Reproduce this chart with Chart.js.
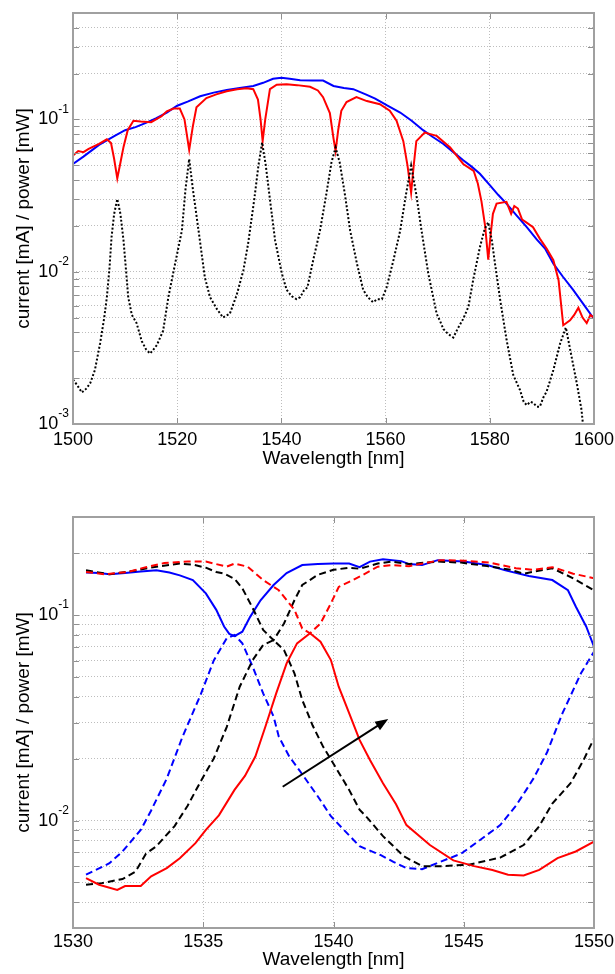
<!DOCTYPE html>
<html>
<head>
<meta charset="utf-8">
<script src="https://cdn.jsdelivr.net/npm/chart.js@4.4.1/dist/chart.umd.min.js"></script>
<style>
  body { margin: 0; background: #fff; }
  #wrap { position: relative; width: 615px; height: 974px; }
  canvas { position: absolute; left: 0; }
</style>
</head>
<body>
<div id="wrap">
  <canvas id="topChart" width="615" height="487" style="top:0"></canvas>
  <canvas id="bottomChart" width="615" height="487" style="top:487px"></canvas>
</div>
<script>
// ---- top panel: full sweep 1500-1600 nm ----
const topTicksX = [1500, 1520, 1540, 1560, 1580, 1600];
const topTicksY = [0.001, 0.002, 0.003, 0.004, 0.005, 0.006, 0.007, 0.008, 0.009,
  0.01, 0.02, 0.03, 0.04, 0.05, 0.06, 0.07, 0.08, 0.09, 0.1, 0.2, 0.3, 0.4, 0.5];

// blue: power envelope
const topBlueX = [1500, 1502, 1505, 1508, 1510, 1512, 1514, 1516, 1518, 1520, 1522, 1524.4, 1527, 1529.5,
  1532, 1534.6, 1536.5, 1538.4, 1540, 1541.6, 1543.6, 1546, 1548, 1550, 1552, 1553.8, 1556.4, 1558,
  1560.2, 1562.8, 1565, 1567.2, 1569, 1571.1, 1573, 1574.9, 1576.5, 1578.1, 1580, 1581.6, 1583.2,
  1585, 1587.1, 1589, 1590.6, 1592.2, 1594, 1596, 1598, 1600];
const topBlueY = [0.051, 0.057, 0.068, 0.078, 0.085, 0.089, 0.095, 0.102, 0.111, 0.123, 0.131, 0.142, 0.150, 0.156,
  0.161, 0.166, 0.174, 0.185, 0.188, 0.185, 0.181, 0.180, 0.180, 0.166, 0.161, 0.158, 0.145, 0.137,
  0.124, 0.111, 0.098, 0.085, 0.077, 0.069, 0.061, 0.054, 0.049, 0.044, 0.037, 0.032, 0.028,
  0.0237, 0.0196, 0.0163, 0.0142, 0.0113, 0.0093, 0.0076, 0.0061, 0.0049];

// red: power with dips
const topRedX = [1500, 1501, 1502, 1503, 1505, 1506.5, 1507.3, 1507.9, 1508.5, 1509.1, 1509.7, 1510.5, 1511.6,
  1513, 1515, 1517, 1518, 1519.3, 1520.5, 1521.4, 1522.3, 1523, 1523.7, 1525.6, 1527.5, 1529.5, 1531.5,
  1533.3, 1534.6, 1535.5, 1536, 1536.4, 1536.9, 1537.8, 1539.1, 1541, 1543, 1545.5, 1547, 1548, 1549.3,
  1550, 1550.4, 1550.9, 1551.5, 1552.5, 1554.4, 1556.4, 1558.9, 1560.8, 1562.1, 1563.4, 1564.2, 1564.9,
  1565.4, 1565.9, 1567.5, 1569.8, 1572.4, 1574.9, 1576.9, 1577.7, 1578.4, 1579.1, 1579.7, 1580.2, 1580.6,
  1581.3, 1583.2, 1584.1, 1584.7, 1585.4, 1586.2, 1587, 1588.3, 1589.6, 1590.9, 1592.2, 1593.2, 1594.1,
  1595.4, 1596.2, 1597, 1597.8, 1598.6, 1599.3, 1600];
const topRedY = [0.058, 0.062, 0.061, 0.064, 0.069, 0.074, 0.070, 0.055, 0.041, 0.052, 0.066, 0.085, 0.098,
  0.097, 0.096, 0.105, 0.113, 0.118, 0.118, 0.100, 0.063, 0.090, 0.120, 0.138, 0.146, 0.153, 0.158,
  0.160, 0.158, 0.135, 0.100, 0.072, 0.100, 0.158, 0.169, 0.170, 0.168, 0.164, 0.155, 0.140, 0.110,
  0.075, 0.062, 0.085, 0.114, 0.130, 0.140, 0.132, 0.126, 0.114, 0.098, 0.072, 0.050, 0.033,
  0.050, 0.072, 0.082, 0.078, 0.0655, 0.051, 0.046, 0.038, 0.029, 0.020, 0.012, 0.018, 0.024,
  0.028, 0.0288, 0.024, 0.027, 0.026, 0.022, 0.0211, 0.0196, 0.0165, 0.0142, 0.0119, 0.0088, 0.00445,
  0.0048, 0.0052, 0.0058, 0.0050, 0.0046, 0.0052, 0.0050];

// black dots: photocurrent
const topDotsX = [1500, 1500.8, 1501.7, 1502.5, 1503.3, 1504.2, 1505.2, 1506, 1506.5, 1507, 1507.4, 1507.9,
  1508.5, 1509.1, 1509.7, 1510.2, 1510.6, 1511.3, 1512.2, 1513.2, 1514, 1514.8, 1515.5, 1516.1, 1517.3,
  1518.3, 1519.6, 1520.9, 1521.6, 1522.3, 1523, 1524.1, 1525.3, 1526.3, 1527.6, 1528.8, 1530.1, 1531.4,
  1532.7, 1533.6, 1534.8, 1535.6, 1536.3, 1537, 1537.9, 1538.8, 1540.1, 1541, 1542, 1542.9, 1543.6,
  1544.3, 1545, 1546.1, 1547.4, 1548.6, 1549.6, 1550.4, 1551.2, 1552.2, 1553.2, 1554.5, 1555.7, 1556.6,
  1557.6, 1558.4, 1559.3, 1560.2, 1561.5, 1562.8, 1563.9, 1564.9, 1565.9, 1566.9, 1568.2, 1569.8, 1570.5,
  1571.1, 1572, 1573, 1573.8, 1574.9, 1575.9, 1576.8, 1578.1, 1579, 1579.7, 1580.4, 1581, 1582, 1583.2,
  1584.5, 1585.8, 1586.5, 1587.1, 1587.8, 1588.4, 1589, 1589.6, 1590.3, 1590.9, 1592.2, 1593.5, 1594.6,
  1595.7, 1596.7, 1597.6, 1597.9];
const topDotsY = [0.00196, 0.0018, 0.00161, 0.0017, 0.00185, 0.00226, 0.00338, 0.0050, 0.0068, 0.0105, 0.0169, 0.024,
  0.030, 0.024, 0.016, 0.010, 0.0068, 0.0052, 0.0046, 0.0035, 0.0031, 0.0029, 0.0031, 0.0033, 0.0041,
  0.0068, 0.0113, 0.0186, 0.035, 0.055, 0.035, 0.0186, 0.0092, 0.0068, 0.0057, 0.0050, 0.0053, 0.0070,
  0.0102, 0.0152, 0.030, 0.050, 0.0706, 0.050, 0.028, 0.016, 0.0097, 0.0076, 0.0069, 0.0066, 0.0068,
  0.0075, 0.0079, 0.0119, 0.0186, 0.032, 0.052, 0.0655, 0.052, 0.032, 0.0186, 0.0113, 0.0076, 0.0068,
  0.0063, 0.0066, 0.0066, 0.0079, 0.0119, 0.0186, 0.032, 0.0497, 0.032, 0.0186, 0.0097, 0.0053, 0.0047,
  0.0042, 0.0039, 0.0037, 0.0042, 0.0049, 0.0059, 0.0088, 0.0145, 0.019, 0.0211, 0.016, 0.0113, 0.0065, 0.0036,
  0.0021, 0.00167, 0.0014, 0.00133, 0.0014, 0.00137, 0.0013, 0.0013, 0.0015, 0.00163, 0.00226, 0.00338, 0.0043,
  0.00276, 0.00185, 0.00124, 0.00098];

// ---- bottom panel: tuning, 1530-1550 nm ----
const botTicksX = [1530, 1535, 1540, 1545, 1550];
const botTicksY = [0.003, 0.004, 0.005, 0.006, 0.007, 0.008, 0.009,
  0.01, 0.02, 0.03, 0.04, 0.05, 0.06, 0.07, 0.08, 0.09, 0.1, 0.2, 0.3];

const blueSolidX = [1530.5, 1531, 1531.4, 1532, 1532.6, 1533.2, 1533.7, 1534.1, 1534.6, 1535.1, 1535.5, 1535.8,
  1536, 1536.2, 1536.5, 1536.8, 1537.2, 1537.7, 1538.2, 1538.8, 1539.4, 1540, 1540.6, 1541, 1541.4,
  1541.9, 1542.6, 1542.9, 1543.4, 1544, 1545, 1545.9, 1546.6, 1547.5, 1548.4, 1549, 1549.3, 1549.7, 1550];
const blueSolidY = [0.161, 0.160, 0.158, 0.160, 0.163, 0.165, 0.161, 0.156, 0.148, 0.1275, 0.106, 0.088,
  0.081, 0.079, 0.083, 0.098, 0.118, 0.140, 0.160, 0.175, 0.177, 0.178, 0.178, 0.171, 0.182,
  0.187, 0.183, 0.177, 0.175, 0.185, 0.182, 0.175, 0.165, 0.155, 0.148, 0.132, 0.110, 0.088, 0.0701];

const blueDashX = [1530.5, 1531.4, 1531.9, 1532.6, 1533, 1533.6, 1534.2, 1534.9, 1535.4, 1535.9, 1536.2, 1536.5,
  1536.9, 1537.3, 1537.7, 1537.9, 1538.3, 1538.7, 1539.4, 1539.9, 1540.4, 1541, 1541.8, 1542.3, 1542.8,
  1543.4, 1544.1, 1544.9, 1545.6, 1546.4, 1547, 1547.4, 1547.7, 1548.2, 1548.8, 1549.5, 1550];
const blueDashY = [0.00545, 0.0062, 0.00707, 0.0090, 0.0112, 0.0160, 0.0255, 0.0410, 0.0600, 0.0770, 0.0800, 0.0728,
  0.0560, 0.0416, 0.0321, 0.0256, 0.0205, 0.0175, 0.0131, 0.0105, 0.0090, 0.0075, 0.0068, 0.0063, 0.00587,
  0.0058, 0.0063, 0.0069, 0.0080, 0.0095, 0.0118, 0.0141, 0.0162, 0.0215, 0.0335, 0.0521, 0.0663];

const blackLowX = [1530.5, 1531.1, 1531.9, 1532.4, 1532.8, 1533.2, 1533.9, 1534.4, 1534.9, 1535.4, 1535.9, 1536.4,
  1536.9, 1537.3, 1537.7, 1538.1, 1538.5, 1538.8, 1539.2, 1539.6, 1540.1, 1540.6, 1541, 1541.3, 1541.9,
  1542.7, 1543.4, 1544.2, 1545.2, 1546.4, 1547.3, 1547.9, 1548.4, 1549.1, 1549.6, 1550];
const blackLowY = [0.00487, 0.00496, 0.00519, 0.00565, 0.0069, 0.0075, 0.0094, 0.0118, 0.0155, 0.0200, 0.0285, 0.0448,
  0.0604, 0.0715, 0.0755, 0.0676, 0.0521, 0.0386, 0.0290, 0.0229, 0.0180, 0.0141, 0.0113, 0.0103, 0.0084,
  0.0067, 0.0060, 0.0060, 0.0061, 0.0066, 0.0076, 0.0094, 0.0121, 0.0152, 0.0197, 0.0251];

const blackHighX = [1530.5, 1531.4, 1532.3, 1533.2, 1534.1, 1534.6, 1535.1, 1535.5, 1535.8, 1536.2, 1536.5, 1536.9,
  1537.3, 1537.7, 1538.1, 1538.5, 1538.8, 1539.4, 1540, 1540.6, 1541, 1541.7, 1542.2, 1542.9, 1544,
  1544.9, 1545.9, 1546.8, 1547.3, 1548.4, 1549.2, 1550];
const blackHighY = [0.165, 0.158, 0.164, 0.172, 0.178, 0.176, 0.170, 0.162, 0.159, 0.150, 0.135, 0.108,
  0.0846, 0.0755, 0.091, 0.118, 0.140, 0.157, 0.166, 0.170, 0.168, 0.178, 0.182, 0.177, 0.182,
  0.180, 0.173, 0.166, 0.159, 0.169, 0.151, 0.132];

const redSolidX = [1530.5, 1531, 1531.7, 1532, 1532.6, 1533, 1533.6, 1534.1, 1534.7, 1535.1, 1535.6, 1536.2,
  1536.6, 1537, 1537.4, 1537.8, 1538.2, 1538.6, 1539.1, 1539.5, 1539.9, 1540.2, 1540.6, 1541, 1541.4,
  1541.9, 1542.4, 1542.8, 1543.7, 1544.6, 1545.4, 1546.1, 1546.7, 1547.3, 1547.9, 1548.6, 1549.3, 1550];
const redSolidY = [0.00525, 0.00487, 0.0046, 0.0048, 0.0048, 0.00535, 0.00587, 0.00656, 0.00776, 0.0090, 0.0106, 0.0141,
  0.0165, 0.0205, 0.0290, 0.0416, 0.0582, 0.0728, 0.0815, 0.0742, 0.0604, 0.0448, 0.0333, 0.0247, 0.0197,
  0.0152, 0.0120, 0.0095, 0.0076, 0.0064, 0.0060, 0.00575, 0.00545, 0.0054, 0.00575, 0.00656, 0.00707, 0.0079];

const redDashX = [1530.5, 1531.2, 1532.1, 1532.8, 1533.5, 1534.4, 1535.1, 1535.9, 1536.2, 1536.7, 1537.3, 1537.9,
  1538.5, 1538.8, 1539.1, 1539.5, 1539.9, 1540.2, 1540.6, 1541.1, 1541.7, 1542.2, 1542.9, 1544.1, 1545,
  1546, 1547, 1547.7, 1548.4, 1549.2, 1550];
const redDashY = [0.162, 0.158, 0.162, 0.171, 0.179, 0.182, 0.182, 0.172, 0.178, 0.172, 0.148, 0.132,
  0.106, 0.086, 0.0815, 0.091, 0.114, 0.137, 0.145, 0.156, 0.172, 0.175, 0.173, 0.185, 0.184,
  0.180, 0.169, 0.166, 0.171, 0.159, 0.151];

// arrow (wavelength, value) from -> to
const arrowFrom = [1538.05, 0.0146];
const arrowTo = [1542.1, 0.0312];

Chart.defaults.font.family = "'Liberation Sans', Arial, sans-serif";
Chart.defaults.color = '#000';

function pts(xs, ys) {
  return xs.map((x, i) => ({ x: x, y: ys[i] }));
}

// box round the plot, inward ticks and 10^n labels
const frame = {
  id: 'frame',
  afterDraw(chart) {
    const { ctx, chartArea: a, scales } = chart;
    ctx.save();
    ctx.strokeStyle = '#909090';
    ctx.lineWidth = 1;
    ctx.beginPath();
    scales.x.ticks.forEach(t => {
      const px = Math.round(scales.x.getPixelForValue(t.value)) + 0.5;
      ctx.moveTo(px, a.bottom); ctx.lineTo(px, a.bottom - 6);
      ctx.moveTo(px, a.top); ctx.lineTo(px, a.top + 6);
    });
    scales.y.ticks.forEach(t => {
      const py = Math.round(scales.y.getPixelForValue(t.value)) + 0.5;
      ctx.moveTo(a.left, py); ctx.lineTo(a.left + 6, py);
      ctx.moveTo(a.right, py); ctx.lineTo(a.right - 6, py);
    });
    ctx.stroke();

    ctx.strokeStyle = '#a0a0a0';
    ctx.lineWidth = 2;
    ctx.strokeRect(a.left, a.top, a.right - a.left, a.bottom - a.top);

    // y labels as 10 with a raised exponent
    ctx.fillStyle = '#000';
    ctx.textBaseline = 'middle';
    scales.y.ticks.forEach(t => {
      const e = Math.log10(t.value);
      if (Math.abs(e - Math.round(e)) > 1e-9) return;
      const py = scales.y.getPixelForValue(t.value);
      const sup = String(Math.round(e));
      ctx.font = "12px 'Liberation Sans', Arial, sans-serif";
      const wSup = ctx.measureText(sup).width;
      ctx.textAlign = 'left';
      ctx.fillText(sup, 69 - wSup, py - 10);
      ctx.font = "18px 'Liberation Sans', Arial, sans-serif";
      ctx.textAlign = 'right';
      ctx.fillText('10', 69 - wSup, py);
    });
    ctx.restore();
  }
};

const arrow = {
  id: 'arrow',
  afterDatasetsDraw(chart) {
    const { ctx, scales } = chart;
    const x0 = scales.x.getPixelForValue(arrowFrom[0]);
    const y0 = scales.y.getPixelForValue(arrowFrom[1]);
    const x1 = scales.x.getPixelForValue(arrowTo[0]);
    const y1 = scales.y.getPixelForValue(arrowTo[1]);
    const ang = Math.atan2(y1 - y0, x1 - x0);
    const len = 13, half = 5;
    ctx.save();
    ctx.strokeStyle = '#000';
    ctx.fillStyle = '#000';
    ctx.lineWidth = 2;
    ctx.beginPath();
    ctx.moveTo(x0, y0);
    ctx.lineTo(x1 - Math.cos(ang) * len * 0.8, y1 - Math.sin(ang) * len * 0.8);
    ctx.stroke();
    ctx.beginPath();
    ctx.moveTo(x1, y1);
    ctx.lineTo(x1 - Math.cos(ang) * len - Math.sin(ang) * half, y1 - Math.sin(ang) * len + Math.cos(ang) * half);
    ctx.lineTo(x1 - Math.cos(ang) * len + Math.sin(ang) * half, y1 - Math.sin(ang) * len - Math.cos(ang) * half);
    ctx.closePath();
    ctx.fill();
    ctx.restore();
  }
};

function line(data, color, dash) {
  return {
    data: data,
    borderColor: color,
    backgroundColor: color,
    borderWidth: 2,
    borderDash: dash || [],
    pointRadius: 0,
    tension: 0,
    fill: false
  };
}

function makePanel(id, datasets, p) {
  return new Chart(document.getElementById(id).getContext('2d'), {
    type: 'line',
    data: { datasets: datasets },
    plugins: p.plugins,
    options: {
      responsive: false,
      animation: false,
      devicePixelRatio: 1,
      layout: { padding: { left: 0, right: 21, top: p.top, bottom: 0 } },
      plugins: { legend: { display: false }, tooltip: { enabled: false } },
      scales: {
        x: {
          type: 'linear',
          min: p.xTicks[0],
          max: p.xTicks[p.xTicks.length - 1],
          afterBuildTicks: s => { s.ticks = p.xTicks.map(v => ({ value: v })); },
          afterFit: s => {
            s.height = p.xHeight;
            // let the last label run off the edge like the original
            s.paddingLeft = 0;
            s.paddingRight = 0;
          },
          ticks: {
            font: { size: 18 },
            maxRotation: 0,
            autoSkip: false,
            padding: p.tickPad,
            callback: v => String(v)
          },
          grid: { color: '#bdbdbd', lineWidth: 1, drawTicks: false },
          border: { display: false, dash: [1, 2] },
          title: {
            display: true,
            text: 'Wavelength [nm]',
            font: { size: 19 },
            padding: { top: 0, bottom: p.titlePad }
          }
        },
        y: {
          type: 'logarithmic',
          min: p.yTicks[0],
          max: p.yTicks[p.yTicks.length - 1],
          afterBuildTicks: s => { s.ticks = p.yTicks.map(v => ({ value: v })); },
          afterFit: s => { s.width = 73; },
          ticks: { display: false },
          grid: { color: '#bdbdbd', lineWidth: 1, drawTicks: false },
          border: { display: false, dash: [1, 2] },
          title: {
            display: true,
            text: 'current [mA] / power [mW]',
            font: { size: 19 },
            padding: { top: 12, bottom: 0 }
          }
        }
      }
    }
  });
}

makePanel('topChart', [
  line(pts(topDotsX, topDotsY), '#000000', [2, 2]),
  line(pts(topRedX, topRedY), '#ff0000'),
  line(pts(topBlueX, topBlueY), '#0000ff')
], { top: 13, xHeight: 63, tickPad: 5, titlePad: 17, xTicks: topTicksX, yTicks: topTicksY, plugins: [frame] });

makePanel('bottomChart', [
  line(pts(redSolidX, redSolidY), '#ff0000'),
  line(pts(redDashX, redDashY), '#ff0000', [7, 4]),
  line(pts(blackLowX, blackLowY), '#000000', [7, 4]),
  line(pts(blackHighX, blackHighY), '#000000', [7, 4]),
  line(pts(blueSolidX, blueSolidY), '#0000ff'),
  line(pts(blueDashX, blueDashY), '#0000ff', [7, 4])
], { top: 30, xHeight: 46, tickPad: 3, titlePad: 3, xTicks: botTicksX, yTicks: botTicksY, plugins: [frame, arrow] });
</script>
</body>
</html>
